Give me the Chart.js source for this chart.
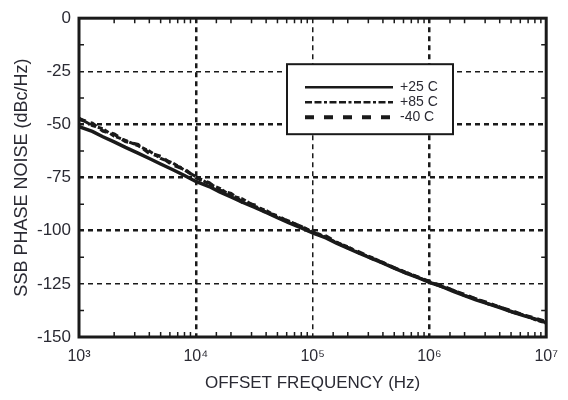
<!DOCTYPE html>
<html>
<head>
<meta charset="utf-8">
<script src="https://cdn.jsdelivr.net/npm/chart.js@4/dist/chart.umd.min.js"></script>
<style>
  html, body { margin: 0; padding: 0; background: #fff; }
  #wrap { width: 568px; height: 400px; }
</style>
</head>
<body>
<div id="wrap"><canvas id="chart"></canvas></div>
<script>
"use strict";

// offset frequency (Hz)
const freqs = [
    1000, 1300, 1600, 2000, 2500, 3200, 4000, 5000, 6300, 8000,
    10000, 13000, 16000, 20000, 25000, 32000, 40000, 50000, 63000, 80000,
    100000, 130000, 160000, 200000, 250000, 320000, 400000, 500000, 630000, 800000,
    1000000, 1300000, 1600000, 2000000, 2500000, 3200000, 4000000, 5000000, 6300000, 8000000,
    10000000
];

// SSB phase noise (dBc/Hz)
const noise_p25 = [
    -51.0, -53.3, -55.8, -58.2, -60.8, -63.5, -66.0, -68.6, -71.2, -74.0,
    -76.8, -79.2, -81.7, -84.1, -86.6, -89.0, -91.4, -93.9, -96.3, -98.7,
    -101.0, -103.4, -105.8, -108.2, -110.6, -113.0, -115.3, -117.6, -119.9, -122.1,
    -124.3, -126.4, -128.5, -130.5, -132.5, -134.4, -136.2, -138.0, -139.8, -141.5,
    -143.2
];
const noise_p85 = [
    -47.0, -50.5, -52.0, -55.5, -57.5, -60.0, -62.5, -66.0, -68.0, -71.5,
    -74.5, -78.0, -80.0, -83.5, -85.0, -88.5, -90.5, -93.5, -95.5, -98.0,
    -100.5, -103.0, -105.5, -107.5, -110.5, -112.5, -115.0, -117.5, -119.5, -122.0,
    -124.0, -126.5, -128.0, -130.5, -132.0, -134.5, -135.8, -138.2, -139.5, -141.8,
    -143.5
];
const noise_m40 = [
    -47.5, -49.5, -53.0, -54.5, -58.0, -59.5, -63.5, -65.0, -69.0, -71.0,
    -75.0, -77.5, -81.0, -82.5, -86.5, -88.0, -91.5, -93.0, -96.0, -98.0,
    -101.0, -102.5, -105.5, -108.0, -110.0, -113.0, -115.0, -117.5, -119.8, -121.8,
    -124.0, -126.0, -128.2, -130.0, -132.2, -134.0, -136.0, -137.6, -139.6, -141.2,
    -142.8
];

const series_labels = ["+25 C", "+85 C", "-40 C"];
const x_tick_labels = { 1000: "10³", 10000: "10⁴", 100000: "10⁵", 1000000: "10⁶", 10000000: "10⁷" };

const FONT = "'Liberation Sans', Arial, Helvetica, sans-serif";
const INK = "#1a1a1a";
const TXT = "#2a2a33";

function toPoints(ys) {
    return freqs.map(function (f, i) { return { x: f, y: ys[i] }; });
}

function isDecade(v) {
    const l = Math.log10(v);
    return Math.abs(l - Math.round(l)) < 1e-6;
}

// frame + inward minor ticks + legend box
const framePlugin = {
    id: "frame",
    afterDatasetsDraw: function (chart) {
        const ctx = chart.ctx;
        const ca = chart.chartArea;
        const xs = chart.scales.x;
        const ys = chart.scales.y;

        ctx.save();
        ctx.strokeStyle = INK;
        ctx.lineWidth = 1.5;
        ctx.setLineDash([]);
        // minor ticks on bottom/top
        xs.ticks.forEach(function (t) {
            if (isDecade(t.value)) return;
            const px = xs.getPixelForValue(t.value);
            ctx.beginPath();
            ctx.moveTo(px, ca.bottom); ctx.lineTo(px, ca.bottom - 5);
            ctx.moveTo(px, ca.top); ctx.lineTo(px, ca.top + 5);
            ctx.stroke();
        });
        // minor ticks left/right
        ys.ticks.forEach(function (t) {
            if (t.value % 25 === 0) return;
            const py = ys.getPixelForValue(t.value);
            ctx.beginPath();
            ctx.moveTo(ca.left, py); ctx.lineTo(ca.left + 5, py);
            ctx.moveTo(ca.right, py); ctx.lineTo(ca.right - 5, py);
            ctx.stroke();
        });

        // frame
        ctx.lineWidth = 3;
        ctx.strokeRect(ca.left, ca.top, ca.right - ca.left, ca.bottom - ca.top);

        // legend
        const bx = ca.left + 208, by = ca.top + 46, bw = 166, bh = 70;
        ctx.fillStyle = "#fff";
        ctx.fillRect(bx, by, bw, bh);
        ctx.lineWidth = 2;
        ctx.strokeRect(bx, by, bw, bh);
        const rows = [23, 38, 53];
        chart.data.datasets.forEach(function (ds, i) {
            const ly = by + rows[i];
            ctx.strokeStyle = INK;
            ctx.lineWidth = ds.legendWidth;
            ctx.setLineDash(ds.legendDash || []);
            ctx.beginPath();
            ctx.moveTo(bx + 18, ly);
            ctx.lineTo(bx + 106, ly);
            ctx.stroke();
            ctx.setLineDash([]);
            ctx.fillStyle = TXT;
            ctx.font = "14px " + FONT;
            ctx.textAlign = "left";
            ctx.textBaseline = "middle";
            ctx.fillText(ds.label, bx + 113, ly);
        });
        ctx.restore();
    }
};

const ctx = document.getElementById("chart");
const phaseChart = new Chart(ctx, {
    type: "line",
    data: {
        datasets: [{
            label: series_labels[0],
            data: toPoints(noise_p25),
            borderColor: INK,
            borderWidth: 3.5,
            legendWidth: 2.5
        }, {
            label: series_labels[1],
            data: toPoints(noise_p85),
            borderColor: INK,
            borderWidth: 3,
            borderDash: [5, 2],
            legendWidth: 2.5,
            legendDash: [7, 2.5, 7, 2.5, 3, 2.5]
        }, {
            label: series_labels[2],
            data: toPoints(noise_m40),
            borderColor: INK,
            borderWidth: 3.5,
            borderDash: [7, 5],
            legendWidth: 4,
            legendDash: [9, 10]
        }]
    },
    options: {
        animation: false,
        responsive: true,
        maintainAspectRatio: false,
        elements: { point: { radius: 0 }, line: { tension: 0 } },
        layout: { padding: { top: 16, right: 21, left: 0, bottom: 0 } },
        plugins: {
            legend: { display: false },
            tooltip: { enabled: false }
        },
        scales: {
            x: {
                type: "logarithmic",
                min: 1000,
                max: 10000000,
                afterFit: function (scale) { scale.height = 63; },
                ticks: {
                    autoSkip: false,
                    maxRotation: 0,
                    padding: 10,
                    color: TXT,
                    font: { family: FONT, size: 16 },
                    callback: function (v) { return x_tick_labels[v] || ""; }
                },
                grid: {
                    drawTicks: false,
                    color: function (c) {
                        const v = c.tick.value;
                        if (!isDecade(v) || v === 1000 || v === 10000000) return "rgba(0,0,0,0)";
                        return INK;
                    },
                    lineWidth: function (c) { return c.tick.value === 100000 ? 1.5 : 2.5; }
                },
                border: { display: false, dash: [5, 4] },
                title: {
                    display: true,
                    text: "OFFSET FREQUENCY (Hz)",
                    color: TXT,
                    font: { family: FONT, size: 17 },
                    padding: { top: 0, bottom: 6 }
                }
            },
            y: {
                min: -150,
                max: 0,
                afterFit: function (scale) { scale.width = 79; },
                ticks: {
                    stepSize: 12.5,
                    autoSkip: false,
                    padding: 8,
                    color: TXT,
                    font: { family: FONT, size: 17 },
                    callback: function (v) { return v % 25 === 0 ? String(v) : ""; }
                },
                grid: {
                    drawTicks: false,
                    color: function (c) {
                        const v = c.tick.value;
                        if (v % 25 !== 0 || v === 0 || v === -150) return "rgba(0,0,0,0)";
                        return INK;
                    },
                    lineWidth: function (c) {
                        const v = c.tick.value;
                        return (v === -25 || v === -125) ? 1.5 : 2.5;
                    }
                },
                border: { display: false, dash: [5, 4] },
                title: {
                    display: true,
                    text: "SSB PHASE NOISE (dBc/Hz)",
                    color: TXT,
                    font: { family: FONT, size: 18 },
                    padding: { top: 11, bottom: 0 }
                }
            }
        }
    },
    plugins: [framePlugin]
});
</script>
</body>
</html>
